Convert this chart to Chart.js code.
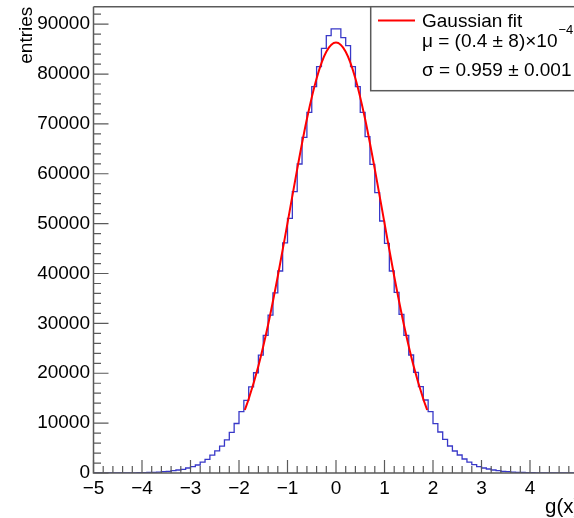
<!DOCTYPE html>
<html><head><meta charset="utf-8">
<script src="https://cdn.jsdelivr.net/npm/chart.js@4/dist/chart.umd.min.js"></script>
<style>html,body{margin:0;padding:0;overflow:hidden;background:#fff;width:574px;height:518px}canvas{display:block}</style>
</head><body><canvas id="c" width="600" height="518"></canvas>
<script>
// ---- data ----
const X_MIN = -5, X_MAX = 5, BIN_WIDTH = 0.1;
const Y_MIN = 0, Y_MAX = 93500;
const X_MAJOR = 1, X_MINOR = 0.2, Y_MAJOR = 10000, Y_MINOR = 2000;

// histogram bin contents, bins of width 0.1 from -5 to 5
const binCounts = [
  1, 2, 4, 5, 8, 12, 17, 25, 35, 50,                                   // -5.0 .. -4.1
  70, 100, 140, 190, 260, 330, 470, 600, 735, 1000,                    // -4.0 .. -3.1
  1270, 1600, 2200, 2750, 3600, 4450, 5400, 6650, 8150, 9930,          // -3.0 .. -2.1
  12300, 14550, 17280, 20100, 23630, 27600, 31650, 36100, 40500, 46150, // -2.0 .. -1.1
  51070, 56420, 61960, 67310, 72330, 77470, 81480, 85160, 87700, 89040, // -1.0 .. -0.1
  89040, 87300, 85700, 81480, 77470, 72330, 67450, 61900, 56220, 50530, //  0.0 ..  0.9
  46060, 40500, 36230, 31820, 27600, 23660, 20190, 17310, 14640, 12300, //  1.0 ..  1.9
  9890, 8220, 6750, 5410, 4410, 3610, 2810, 2200, 1670, 1270,           //  2.0 ..  2.9
  1000, 800, 600, 470, 330, 260, 190, 140, 100, 70,                     //  3.0 ..  3.9
  50, 35, 25, 17, 12, 8, 5, 4, 2, 1                                     //  4.0 ..  4.9
];

// Gaussian fit curve
const fitX = [-1.88, -1.8, -1.6, -1.4, -1.2, -1.0, -0.8, -0.6, -0.4, -0.2, 0,
              0.2, 0.4, 0.6, 0.8, 1.0, 1.2, 1.4, 1.6, 1.8, 1.88];
const fitY = [12630, 14830, 21460, 29730, 39450, 50110, 60940, 70970, 79110, 84450, 86300,
              84450, 79110, 70970, 60940, 50110, 39450, 29730, 21460, 14830, 12630];

const legendFit = 'Gaussian fit';
const legendMu = 'μ = (0.4 ± 8)×10';
const legendMuExp = '−4';
const legendSigma = 'σ = 0.959 ± 0.001';
const xTitle = 'g(x)';
const yTitle = 'entries';

// ---- chart ----
const FONT = "'Liberation Sans', Arial, Helvetica, sans-serif";
const AXIS = '#5a5a5a';
Chart.defaults.font.family = FONT;
Chart.defaults.font.size = 19;
Chart.defaults.color = '#000';

const histData = binCounts.map((c, i) => ({x: X_MIN + i * BIN_WIDTH, y: c}));
histData.push({x: X_MAX, y: binCounts[binCounts.length - 1]});
const fitData = fitX.map((x, i) => ({x, y: fitY[i]}));

const rootFrame = {
  id: 'rootFrame',
  afterDatasetsDraw(chart) {
    const {ctx, chartArea: ca, scales: {x, y}} = chart;
    ctx.save();
    ctx.strokeStyle = AXIS;
    // minor + major ticks, inside the frame
    ctx.lineWidth = 1.2;
    ctx.beginPath();
    const nx = Math.round((x.max - x.min) / X_MINOR);
    for (let i = 0; i <= nx; i++) {
      const v = x.min + i * X_MINOR;
      const px = x.getPixelForValue(v);
      const major = Math.abs(v / X_MAJOR - Math.round(v / X_MAJOR)) < 1e-6;
      ctx.moveTo(px, ca.bottom);
      ctx.lineTo(px, ca.bottom - (major ? 13 : 7));
    }
    const ny = Math.floor((y.max - y.min) / Y_MINOR);
    for (let i = 0; i <= ny; i++) {
      const v = y.min + i * Y_MINOR;
      const py = y.getPixelForValue(v);
      const major = v % Y_MAJOR === 0;
      ctx.moveTo(ca.left, py);
      ctx.lineTo(ca.left + (major ? 15 : 7.5), py);
    }
    ctx.stroke();
    // frame
    ctx.lineWidth = 1.5;
    ctx.beginPath();
    ctx.moveTo(ca.left, ca.top); ctx.lineTo(ca.right, ca.top); ctx.lineTo(ca.right, ca.bottom);
    ctx.moveTo(ca.left, ca.top); ctx.lineTo(ca.left, ca.bottom); ctx.lineTo(ca.right, ca.bottom);
    ctx.stroke();
    // x-axis title (ROOT style, right end of axis)
    ctx.fillStyle = '#000';
    ctx.font = '20.5px ' + FONT;
    ctx.textBaseline = 'alphabetic';
    ctx.textAlign = 'left';
    ctx.fillText(xTitle, 545, 512.7);
    // legend box
    const bx = 370.7, by = 6.7, bw = 240, bh = 84;
    ctx.fillStyle = '#fff';
    ctx.fillRect(bx, by, bw, bh);
    ctx.strokeRect(bx, by, bw, bh);
    ctx.strokeStyle = 'red';
    ctx.lineWidth = 2;
    ctx.beginPath(); ctx.moveTo(378, 20.5); ctx.lineTo(415, 20.5); ctx.stroke();
    ctx.fillStyle = '#000';
    ctx.font = '19px ' + FONT;
    ctx.fillText(legendFit, 422, 27);
    ctx.fillText(legendMu, 422, 47);
    const w = ctx.measureText(legendMu).width;
    ctx.font = '13px ' + FONT;
    ctx.fillText(legendMuExp, 422 + w + 1, 33.5);
    ctx.font = '19px ' + FONT;
    ctx.fillText(legendSigma, 422, 75.5);
    ctx.restore();
  }
};

new Chart(document.getElementById('c'), {
  type: 'line',
  data: {
    datasets: [
      {label: legendFit, data: fitData, borderColor: '#ff0000', borderWidth: 2,
       pointRadius: 0, cubicInterpolationMode: 'monotone', fill: false},
      {label: 'hist', data: histData, borderColor: '#3838c8', borderWidth: 1.3,
       pointRadius: 0, stepped: true, fill: false}
    ]
  },
  options: {
    responsive: false,
    animation: false,
    events: [],
    layout: {padding: {left: 0, top: 6.7, right: 21.5, bottom: 0}},
    plugins: {legend: {display: false}, tooltip: {enabled: false}},
    scales: {
      x: {
        type: 'linear', min: X_MIN, max: X_MAX,
        grid: {display: false, drawTicks: false}, border: {display: false},
        ticks: {stepSize: X_MAJOR, padding: 4.5, maxRotation: 0, autoSkip: false,
                callback: v => String(v).replace('-', '−')},
        title: {display: false, text: xTitle},
        afterFit: s => { s.height = 45; s.paddingLeft = 0; s.paddingRight = 0; }
      },
      y: {
        type: 'linear', min: Y_MIN, max: Y_MAX,
        grid: {display: false, drawTicks: false}, border: {display: false},
        ticks: {padding: 3.5, callback: v => String(v)},
        afterBuildTicks: s => {
          const t = [];
          for (let v = Y_MIN; v <= s.max; v += Y_MAJOR) t.push({value: v});
          s.ticks = t;
        },
        title: {display: true, text: yTitle, align: 'end', padding: {top: 15, bottom: 0}},
        afterFit: s => { s.width = 93.5; s.paddingTop = 0; s.paddingBottom = 0; }
      }
    }
  },
  plugins: [rootFrame]
});
</script>
</body></html>
